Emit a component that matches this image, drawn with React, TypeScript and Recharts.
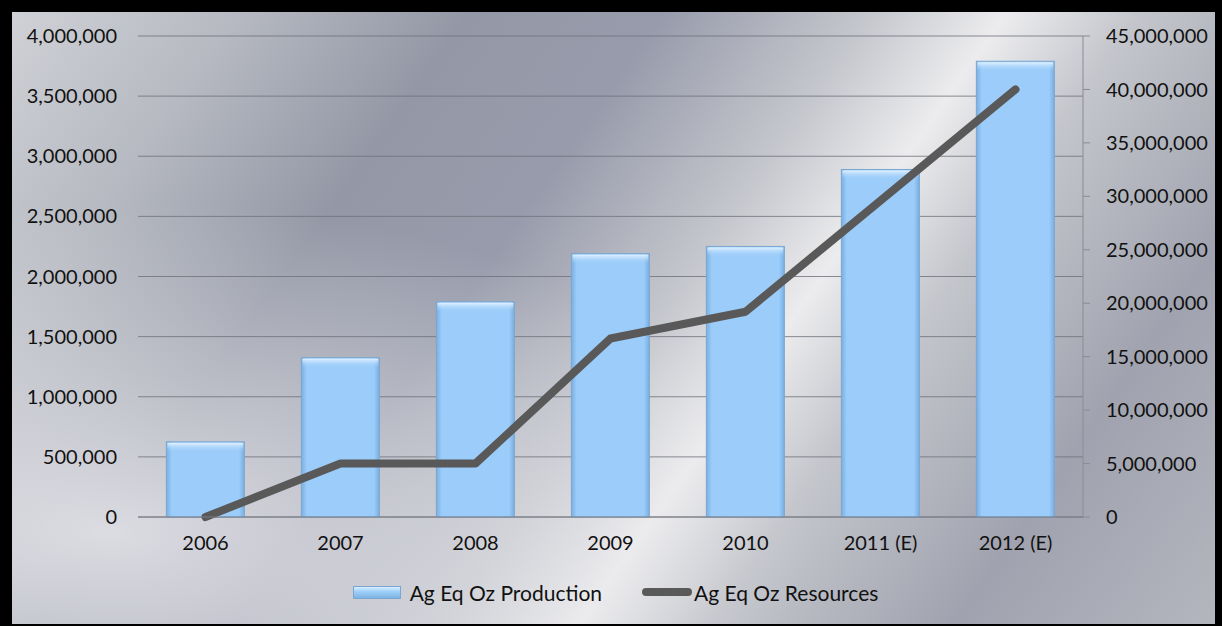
import React from "react";
import {
  ComposedChart,
  Bar,
  Line,
  XAxis,
  YAxis,
  CartesianGrid,
  Legend,
} from "recharts";

const categories = ["2006", "2007", "2008", "2009", "2010", "2011 (E)", "2012 (E)"];
const production = [625000, 1325000, 1790000, 2190000, 2250000, 2890000, 3790000];
const resources = [0, 5000000, 5000000, 16700000, 19200000, 29600000, 40000000];
const leftTicks = [0, 500000, 1000000, 1500000, 2000000, 2500000, 3000000, 3500000, 4000000];
const rightTicks = [0, 5000000, 10000000, 15000000, 20000000, 25000000, 30000000, 35000000, 40000000, 45000000];

const data = categories.map((c, i) => ({
  name: c,
  production: production[i],
  resources: resources[i],
}));

const FONT = "Lato, 'Open Sans', sans-serif";
const fmt = (v: number) => v.toLocaleString("en-US");

const BarShape = (props: any) => {
  const { x, y, width, height } = props;
  if (!height || height <= 0) return null;
  return (
    <g>
      <rect x={x} y={y} width={width} height={height} fill="url(#barH)" stroke="#7aa6d0" strokeWidth={1} />
      <rect x={x + 1} y={y + 1} width={width - 2} height={Math.min(9, height - 1)} fill="url(#barTop)" />
    </g>
  );
};

const LegendContent = () => (
  <div
    style={{
      display: "flex",
      justifyContent: "center",
      alignItems: "center",
      height: 40,
      fontFamily: FONT,
      fontSize: 21,
      color: "#111",
      paddingLeft: 4,
    }}
  >
    <div
      style={{
        width: 46,
        height: 11,
        background: "linear-gradient(#d8eeff, #9fd0fb 40%, #7fb3e2)",
        border: "1px solid #7aa6d0",
        marginRight: 9,
      }}
    />
    <span style={{ marginRight: 40 }}>Ag Eq Oz Production</span>
    <div style={{ width: 50, height: 8, background: "#595959", borderRadius: 4, marginRight: 2 }} />
    <span>Ag Eq Oz Resources</span>
  </div>
);

export default function App() {
  return (
    <div
      style={{
        position: "absolute",
        left: 0,
        top: 0,
        width: 1222,
        height: 626,
        boxSizing: "border-box",
        borderTop: "12px solid #000",
        borderLeft: "12px solid #000",
        borderRight: "7px solid #000",
        borderBottom: "2px solid #000",
        background:
          "radial-gradient(ellipse at 8% 85%, rgba(232,232,236,0.85), rgba(232,232,236,0) 45%), linear-gradient(125deg, #cfd1d6 0%, #b6b9c1 14%, #9498a6 28%, #989bab 40%, #c6c8ce 53%, #ececee 61%, #c4c6cc 69%, #a0a3af 84%, #b3b6be 100%)",
      }}
    >
      <ComposedChart
        width={1203}
        height={612}
        data={data}
        margin={{ top: 24, right: 0, left: 0, bottom: 12 }}
        barCategoryGap="21%"
      >
        <defs>
          <linearGradient id="barH" x1="0" y1="0" x2="1" y2="0">
            <stop offset="0%" stopColor="#78aee0" />
            <stop offset="7%" stopColor="#9ccdfa" />
            <stop offset="93%" stopColor="#9ccdfa" />
            <stop offset="100%" stopColor="#78aee0" />
          </linearGradient>
          <linearGradient id="barTop" x1="0" y1="0" x2="0" y2="1">
            <stop offset="0%" stopColor="#e6f4ff" stopOpacity={0.95} />
            <stop offset="100%" stopColor="#9ccdfa" stopOpacity={0} />
          </linearGradient>
        </defs>
        <CartesianGrid vertical={false} stroke="#6f717a" strokeOpacity={0.8} yAxisId="left" />
        <XAxis
          dataKey="name"
          height={55}
          tickSize={0}
          tickMargin={19}
          axisLine={{ stroke: "#7c7e86" }}
          tickLine={false}
          tick={{ fill: "#111", fontSize: 20, fontFamily: FONT }}
        />
        <YAxis
          yAxisId="left"
          orientation="left"
          width={126}
          domain={[0, 4000000]}
          ticks={leftTicks}
          tickFormatter={fmt}
          tickSize={0}
          tickMargin={21}
          axisLine={false}
          tickLine={false}
          interval={0}
          tick={{ fill: "#111", fontSize: 20, fontFamily: FONT }}
        />
        <YAxis
          yAxisId="right"
          orientation="right"
          width={132}
          domain={[0, 45000000]}
          ticks={rightTicks}
          tickFormatter={fmt}
          tickSize={7}
          tickMargin={16}
          axisLine={{ stroke: "#8a8c94" }}
          tickLine={{ stroke: "#8a8c94" }}
          interval={0}
          tick={{ fill: "#111", fontSize: 20, fontFamily: FONT }}
        />
        <Legend verticalAlign="bottom" height={40} content={<LegendContent />} />
        <Bar
          yAxisId="left"
          dataKey="production"
          name="Ag Eq Oz Production"
          shape={<BarShape />}
          isAnimationActive={false}
        />
        <Line
          yAxisId="right"
          dataKey="resources"
          name="Ag Eq Oz Resources"
          type="linear"
          stroke="#595959"
          strokeWidth={8}
          strokeLinecap="round"
          strokeLinejoin="round"
          dot={false}
          activeDot={false}
          isAnimationActive={false}
        />
      </ComposedChart>
    </div>
  );
}
